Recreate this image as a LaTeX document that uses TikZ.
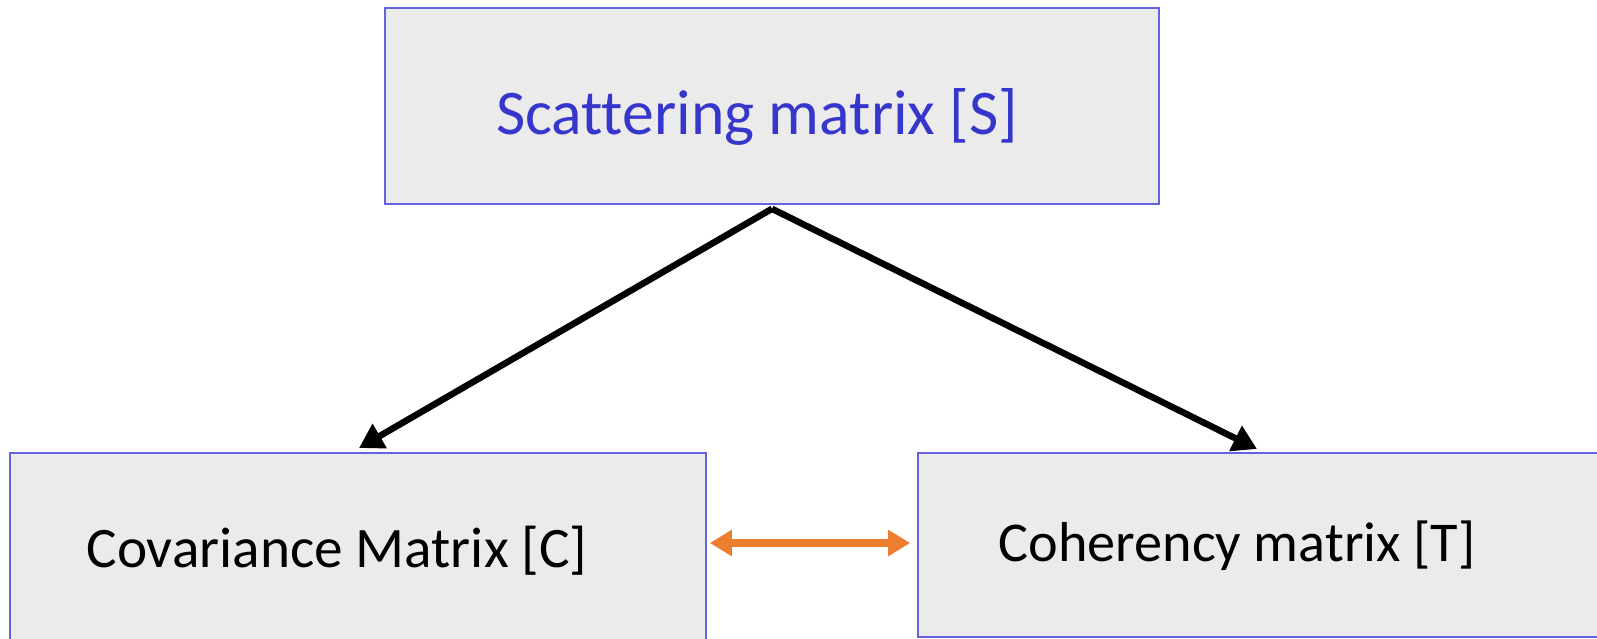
\documentclass[tikz,border=0pt]{standalone}
\usepackage{fontspec}
\setmainfont{Carlito}[Ligatures=CommonOff]
\usetikzlibrary{arrows.meta}
\definecolor{boxfill}{HTML}{EBEBEB}
\definecolor{boxline}{HTML}{6464E0}
\definecolor{titleblue}{HTML}{3636CC}
\definecolor{linkorange}{HTML}{ED7D31}
\tikzset{
  matbox/.style={draw=boxline, line width=1.6pt, fill=boxfill,
    rectangle, inner sep=0pt},
  lbl/.style={inner sep=0pt, anchor=base},
  derive/.style={line width=6.5pt, -{Triangle[length=24pt,width=27pt]}},
  relate/.style={draw=linkorange, line width=7.5pt,
    {Triangle[length=22pt,width=25pt]}-{Triangle[length=22pt,width=25pt]}},
}
\begin{document}
\begin{tikzpicture}[x=1pt,y=-1pt]
  \useasboundingbox (0,0) rectangle (1597,638);
  % boxes
  \node[matbox, minimum width=774pt, minimum height=196pt] (S) at (772,106) {};
  \node[matbox, minimum width=696pt, minimum height=227pt] (C) at (358,566.5) {};
  \node[matbox, minimum width=722pt, minimum height=184pt] (T) at (1279,545) {};
  % box texts
  \node[lbl, text=titleblue] (Stxt) at (757,134)
    {\resizebox{522pt}{!}{Scattering matrix [S]}};
  \node[lbl] (Ctxt) at (337,567)
    {\resizebox{501pt}{!}{Covariance Matrix [C]}};
  \node[lbl] (Ttxt) at (1237,561)
    {\resizebox{477pt}{!}{Coherency matrix [T]}};
  % connector end points
  \coordinate (apex) at ([yshift=-4pt]S.south);
  \coordinate (cin) at (359,448);
  \coordinate (tin) at (1257,449);
  \coordinate (cout) at ([xshift=3pt]C.east |- 0,543);
  \coordinate (tout) at ([xshift=-7pt]T.west |- 0,543);
  \draw[derive] (apex) -- (cin);
  \draw[derive] (apex) -- (tin);
  \draw[relate] (cout) -- (tout);
\end{tikzpicture}
\end{document}
